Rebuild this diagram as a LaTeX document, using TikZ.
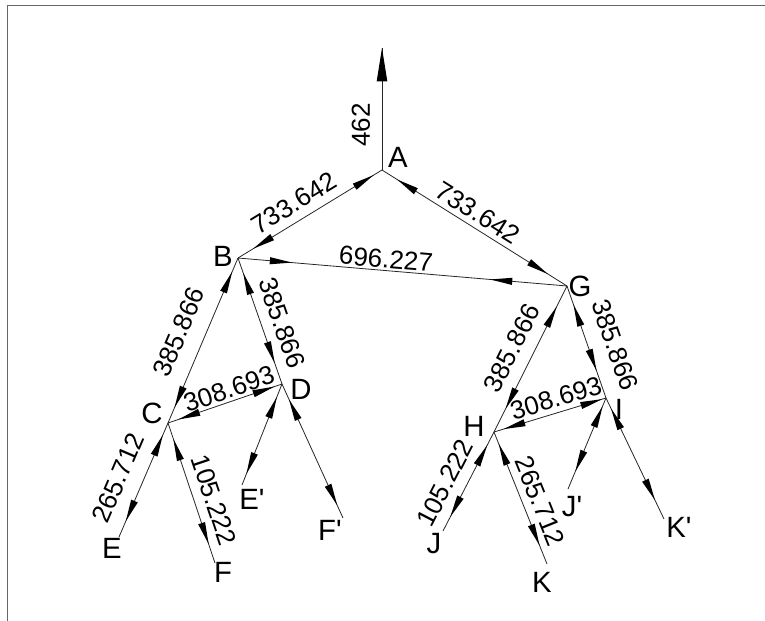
\documentclass[tikz,border=0pt]{standalone}
\usepackage{fontspec}
\setmainfont{Liberation Sans}
% a family without TeX ligatures keeps the straight apostrophe in E', F', J', K'
\newfontfamily\labelfont{Liberation Sans}
\usetikzlibrary{decorations.markings}

\tikzset{
  member/.style={draw=black!85, line width=0.6pt},
  % slender filled wedge whose point lies on the path at #1, pointing forward
  tip to end/.style={postaction={decorate,decoration={markings,
      mark=at position #1 with {\fill[black] (0,0) -- (-16.5pt,2.7pt) -- (-16.5pt,-2.7pt) -- cycle;}}}},
  % same wedge pointing back towards the start of the path
  tip to start/.style={postaction={decorate,decoration={markings,
      mark=at position #1 with {\fill[black] (0,0) -- (16.5pt,2.7pt) -- (16.5pt,-2.7pt) -- cycle;}}}},
  big tip/.style={postaction={decorate,decoration={markings,
      mark=at position 1 with {\fill[black] (0,0) -- (-25pt,4pt) -- (-25pt,-4pt) -- cycle;}}}},
  joint/.style={font=\labelfont\fontsize{22}{24}\selectfont, inner sep=0pt},
  force/.style={font=\labelfont\fontsize{19.5}{21}\selectfont, inner sep=0pt},
  frame/.style={draw=black!60, line width=1.3pt},
}

\begin{document}
\begin{tikzpicture}[x=0.75pt,y=-0.75pt]
\useasboundingbox (0,0) rectangle (765,621);
\fill[white] (0,0) rectangle (765,621);
\draw[frame] (7.5,621) -- (7.5,5.5) -- (765,5.5);

% joints and free ends
\coordinate (A) at (382,170);
\coordinate (Atop) at (382,48);
\coordinate (B) at (238,258);
\coordinate (G) at (567,286);
\coordinate (C) at (168,423);
\coordinate (D) at (282,384);
\coordinate (H) at (494,432);
\coordinate (I) at (606,398);
\coordinate (e) at (119,537);
\coordinate (f) at (215,563);
\coordinate (e2) at (242,485);
\coordinate (f2) at (343,518);
\coordinate (j) at (443,531);
\coordinate (k) at (547,564);
\coordinate (j2) at (568,489);
\coordinate (k2) at (664,519);

% reaction at the top
\draw[member, big tip] (A) -- (Atop);

% upper members
\draw[member, tip to start=7.5pt, tip to end=-13.5pt] (A) -- (B);
\draw[member, tip to start=13.5pt, tip to end=-17pt] (A) -- (G);
\draw[member, tip to end=40.5pt, tip to start=-57.75pt] (B) -- (G);

% left branch
\draw[member, tip to start=11.25pt, tip to end=-12.75pt] (B) -- (C);
\draw[member, tip to start=12pt, tip to end=-16.5pt] (B) -- (D);
\draw[member, tip to start=8.25pt, tip to end=-6pt] (C) -- (D);
\draw[member, tip to start=10.5pt, tip to end=-9pt] (D) -- (e2);
\draw[member, tip to start=12.75pt, tip to end=-10.5pt] (D) -- (f2);
\draw[member, tip to start=9.75pt, tip to end=-12.75pt] (C) -- (e);
\draw[member, tip to start=12.75pt, tip to end=-15pt] (C) -- (f);

% right branch
\draw[member, tip to start=17.25pt, tip to end=-19.5pt] (G) -- (H);
\draw[member, tip to start=15pt, tip to end=-21.75pt] (G) -- (I);
\draw[member, tip to start=7.5pt, tip to end=-3pt] (H) -- (I);
\draw[member, tip to start=6.75pt, tip to end=-14.25pt] (I) -- (j2);
\draw[member, tip to start=9pt, tip to end=-15.75pt] (I) -- (k2);
\draw[member, tip to start=11.25pt, tip to end=-12pt] (H) -- (j);
\draw[member, tip to start=9.75pt, tip to end=-15pt] (H) -- (k);

% joint letters
\node[joint] (lA) at (398,157) {A};
\node[joint] (lB) at (223,256) {B};
\node[joint] (lG) at (580,286) {G};
\node[joint] (lC) at (152,413) {C};
\node[joint] (lD) at (301,389) {D};
\node[joint] (lH) at (474,426) {H};
\node[joint] (lI) at (619,409) {I};
\node[joint] (lE) at (112,548) {E};
\node[joint] (lF) at (223,572) {F};
\node[joint] (lE2) at (252,499) {E'};
\node[joint] (lF2) at (330,530) {F'};
\node[joint] (lJ) at (434,544) {J};
\node[joint] (lK) at (542,582) {K};
\node[joint] (lJ2) at (572,507) {J'};
\node[joint] (lK2) at (679,527) {K'};

% member forces
\node[force, rotate=90] (fA) at (361,125) {462};
\node[force, rotate=31.4] (fAB) at (294,203) {733.642};
\node[force, rotate=-32.1] (fAG) at (478,213) {733.642};
\node[force, rotate=-4.9] (fBG) at (386,259) {696.227};
\node[force, rotate=67] (fBC) at (179,332) {385.866};
\node[force, rotate=-70.9] (fBD) at (282,323) {385.866};
\node[force, rotate=18.9] (fCD) at (229,389) {308.693};
\node[force, rotate=66.7] (fCE) at (118,478) {265.712};
\node[force, rotate=-71.4] (fCF) at (214,500) {105.222};
\node[force, rotate=63.4] (fGH) at (512,348) {385.866};
\node[force, rotate=-70.8] (fGI) at (615,345) {385.866};
\node[force, rotate=16.9] (fHI) at (556,398) {308.693};
\node[force, rotate=62.7] (fHJ) at (445,483) {105.222};
\node[force, rotate=-68.1] (fHK) at (540,501) {265.712};
\end{tikzpicture}
\end{document}
